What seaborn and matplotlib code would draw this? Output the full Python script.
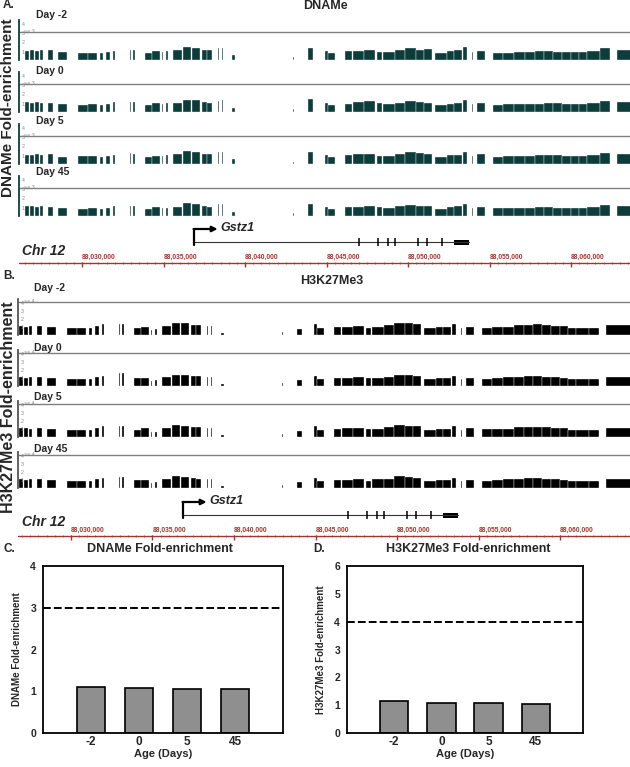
import matplotlib
matplotlib.use("Agg")
import matplotlib.pyplot as plt
import seaborn as sns
import pandas as pd
import numpy as np

W, H = 630, 767

# genomic windows, kb past 88,000,000 on chr12
seg_start = [26.50, 26.81, 27.12, 27.42, 27.91, 28.53, 29.75, 30.35, 31.10, 31.47,
             31.90, 32.94, 33.13, 33.87, 34.30, 34.91, 35.15, 35.58, 36.20, 36.75,
             37.36, 37.65, 38.34, 38.56, 39.20, 42.94, 43.87, 44.91, 45.10, 46.13,
             46.63, 47.30, 48.10, 48.47, 49.20, 49.80, 50.50, 51.00, 51.66, 52.40,
             52.85, 53.37, 53.93, 54.23, 55.21, 55.85, 56.50, 57.15, 57.80, 58.35,
             58.90, 59.45, 60.00, 60.50, 61.00, 61.80, 62.82]
seg_end = [26.75, 27.06, 27.36, 27.61, 28.22, 29.08, 30.35, 30.92, 31.29, 31.72,
           32.02, 33.02, 33.25, 34.30, 34.79, 34.97, 35.27, 36.13, 36.70, 37.24,
           37.65, 37.98, 38.40, 38.62, 39.39, 42.98, 44.17, 45.10, 45.52, 46.56,
           47.30, 47.98, 48.40, 49.20, 49.80, 50.50, 51.00, 51.47, 52.40, 52.85,
           53.30, 53.62, 53.99, 54.72, 55.85, 56.50, 57.15, 57.80, 58.35, 58.90,
           59.45, 60.00, 60.50, 61.00, 61.80, 62.39, 64.40]

days = ["Day -2", "Day 0", "Day 5", "Day 45"]

dname_d_2 = [1.00, 1.05, 1.00, 1.05, 1.05, 0.85, 0.80, 0.80, 0.70, 0.90,
             1.00, 1.10, 1.10, 0.75, 0.95, 0.90, 0.95, 1.05, 1.40, 1.30,
             1.10, 1.05, 1.30, 1.30, 0.50, 0.30, 1.30, 1.00, 0.70, 0.95,
             1.00, 1.10, 0.90, 0.90, 1.05, 1.25, 1.10, 1.15, 0.75, 0.95,
             1.05, 1.35, 0.90, 1.00, 0.80, 0.80, 0.85, 0.85, 0.95, 1.00,
             0.90, 0.90, 0.85, 0.85, 1.00, 1.25, 1.10]
dname_d0 = [1.05, 1.00, 1.05, 1.00, 1.00, 0.85, 0.80, 0.85, 0.70, 0.85,
            1.05, 1.05, 1.10, 0.80, 0.95, 0.85, 1.00, 1.00, 1.30, 1.25,
            1.05, 1.00, 1.20, 1.25, 0.45, 0.30, 1.35, 0.95, 0.70, 0.90,
            1.05, 1.15, 0.95, 0.85, 1.00, 1.20, 1.10, 0.95, 0.75, 0.90,
            1.00, 1.30, 0.85, 0.95, 0.80, 0.85, 0.85, 0.90, 0.90, 0.95,
            0.95, 0.85, 0.90, 0.85, 0.95, 1.15, 1.05]
dname_d5 = [1.00, 1.00, 1.05, 1.00, 1.05, 0.80, 0.85, 0.85, 0.75, 0.90,
            1.00, 1.20, 1.10, 0.75, 0.90, 0.90, 0.95, 1.05, 1.35, 1.30,
            1.10, 1.05, 1.25, 1.25, 0.50, 0.25, 1.30, 1.00, 0.75, 0.95,
            1.05, 1.10, 0.90, 0.90, 1.10, 1.25, 1.15, 1.05, 0.75, 0.95,
            1.00, 1.30, 0.90, 1.05, 0.80, 0.85, 0.90, 0.85, 0.95, 1.00,
            0.95, 0.90, 0.85, 0.90, 1.00, 1.20, 1.10]
dname_d45 = [1.05, 1.05, 1.00, 1.05, 1.00, 0.85, 0.80, 0.85, 0.70, 0.85,
             1.05, 1.10, 1.05, 0.80, 0.95, 0.85, 0.90, 1.00, 1.35, 1.25,
             1.05, 1.00, 1.25, 1.30, 0.45, 0.30, 1.30, 1.00, 0.70, 0.95,
             1.00, 1.10, 0.95, 0.90, 1.05, 1.20, 1.10, 1.10, 0.80, 0.95,
             1.05, 1.30, 0.85, 1.00, 0.85, 0.85, 0.90, 0.90, 0.95, 0.95,
             0.90, 0.90, 0.90, 0.85, 1.00, 1.20, 1.10]

k27_d_2 = [1.00, 1.10, 1.00, 1.05, 1.10, 1.00, 0.80, 0.85, 0.90, 1.10,
           1.30, 1.35, 1.30, 0.90, 1.00, 0.60, 0.70, 1.10, 1.50, 1.40,
           1.25, 1.20, 1.10, 1.10, 0.30, 0.40, 0.70, 1.30, 0.80, 1.00,
           1.00, 1.05, 0.90, 1.00, 1.20, 1.50, 1.40, 1.30, 0.90, 0.95,
           0.95, 1.30, 0.90, 1.00, 0.90, 0.95, 1.00, 1.20, 1.25, 1.30,
           1.20, 1.10, 1.05, 0.85, 0.80, 0.85, 1.20]
k27_d0 = [1.05, 1.05, 1.00, 1.05, 1.05, 1.00, 0.85, 0.85, 0.90, 1.05,
          1.25, 1.60, 1.55, 0.95, 1.00, 0.60, 0.70, 1.05, 1.30, 1.30,
          1.25, 1.20, 1.15, 1.10, 0.30, 0.40, 0.75, 1.25, 0.80, 0.95,
          1.00, 1.10, 0.95, 1.00, 1.15, 1.35, 1.30, 1.25, 0.85, 0.95,
          1.00, 1.25, 0.90, 1.00, 0.90, 1.00, 1.05, 1.15, 1.20, 1.25,
          1.15, 1.05, 1.00, 0.85, 0.80, 0.85, 1.15]
k27_d5 = [1.00, 1.10, 1.05, 1.00, 1.05, 1.00, 0.80, 0.85, 0.85, 1.05,
          1.30, 1.30, 1.35, 0.90, 1.05, 0.60, 0.65, 1.10, 1.45, 1.35,
          1.20, 1.20, 1.10, 1.05, 0.30, 0.40, 0.70, 1.30, 0.85, 1.00,
          1.05, 1.05, 0.95, 1.00, 1.20, 1.45, 1.35, 1.30, 0.90, 1.00,
          0.95, 1.30, 0.90, 1.05, 0.95, 1.00, 1.00, 1.20, 1.20, 1.25,
          1.20, 1.10, 1.05, 0.90, 0.85, 0.85, 1.15]
k27_d45 = [1.05, 1.05, 1.00, 1.05, 1.10, 1.00, 0.85, 0.80, 0.90, 1.05,
           1.25, 1.30, 1.30, 0.95, 1.00, 0.55, 0.70, 1.05, 1.40, 1.35,
           1.25, 1.15, 1.10, 1.10, 0.30, 0.35, 0.75, 1.25, 0.80, 1.00,
           1.00, 1.10, 0.90, 1.05, 1.15, 1.40, 1.35, 1.25, 0.85, 0.95,
           1.00, 1.25, 0.90, 1.00, 0.90, 0.95, 1.05, 1.15, 1.25, 1.25,
           1.15, 1.10, 1.00, 0.85, 0.80, 0.85, 1.15]

dname_tracks = [dname_d_2, dname_d0, dname_d5, dname_d45]
k27_tracks = [k27_d_2, k27_d0, k27_d5, k27_d45]

# Gstz1 gene model (kb past 88,000,000)
gene_start = 36.87
utr_start, utr_end = 52.80, 53.75
exons = [47.0, 48.16, 48.77, 49.2, 50.6, 51.15, 52.1]
coord_ticks = [30, 35, 40, 45, 50, 55, 60]

# bar charts C and D
ages = ["-2", "0", "5", "45"]
dname_fold = [1.09, 1.07, 1.06, 1.05]
k27_fold = [1.14, 1.07, 1.06, 1.05]

sns.set_style("white")
plt.rcParams["font.family"] = ["Liberation Sans", "DejaVu Sans"]

fig = plt.figure(figsize=(W / 100, H / 100), dpi=100)
RED = "#a8322d"
TEAL = "#0c3d3b"


def px_ax(left, top, width, height):
    return fig.add_axes([left / W, 1 - (top + height) / H, width / W, height / H])


def px_text(x, y, s, **kw):
    fig.text(x / W, 1 - y / H, s, **kw)


def draw_track(left, baseline, xlim, heights, color, thr, ymax, ppu, spine_color):
    hpx = ymax * ppu
    ax = px_ax(left, baseline - hpx, W - left, hpx)
    widths = [e - s for s, e in zip(seg_start, seg_end)]
    ax.bar(seg_start, heights, width=widths, align="edge", color=color,
           edgecolor="white", linewidth=0.25)
    ax.axhline(thr, color="#808080", lw=1.0)
    ax.set_xlim(*xlim)
    ax.set_ylim(0, ymax)
    for s in ["top", "right", "bottom"]:
        ax.spines[s].set_visible(False)
    ax.spines["left"].set_color(spine_color)
    ax.spines["left"].set_linewidth(1.3)
    ax.set_xticks([])
    ax.set_yticks([1, 2, 3, 4])
    ax.tick_params(axis="y", direction="in", length=2, width=0.5, color="#888888",
                   labelleft=False)
    tr = ax.get_yaxis_transform()
    for v in [1, 2, 3, 4]:
        ax.text(0.004, v - 0.15, str(v), transform=tr, fontsize=3.8, color="#888888",
                va="center", ha="left")
    ax.text(0.009, thr + 0.1, f">= {thr}", transform=tr, fontsize=3.8, color="#888888",
            va="center", ha="left")
    return ax


def draw_gene(left, top, xlim, arrow_y, line_y, axis_y):
    ax = px_ax(left, top, W - left, 55)
    ax.set_xlim(*xlim)
    ax.set_ylim(top + 55, top)
    ax.axis("off")
    ax.plot([gene_start, utr_end], [line_y, line_y], color="#333333", lw=0.8)
    ax.vlines(exons, line_y - 4, line_y + 4, color="black", lw=1.1)
    ax.fill_between([utr_start, utr_end], line_y - 2.5, line_y + 2.5, color="black", lw=0)
    ax.plot([gene_start, gene_start], [line_y + 3, arrow_y], color="black", lw=1.6)
    ax.annotate("", xy=(gene_start + 1.45, arrow_y), xytext=(gene_start - 0.03, arrow_y),
                arrowprops=dict(arrowstyle="-|>", color="black", lw=1.6,
                                mutation_scale=8, shrinkA=0, shrinkB=0))
    ax.text(gene_start + 1.6, arrow_y - 1, "Gstz1", style="italic", weight="bold",
            fontsize=9, va="center", ha="left")
    ax.plot(list(xlim), [axis_y, axis_y], color=RED, lw=1.0)
    ax.vlines(np.arange(np.ceil(xlim[0] * 2) / 2, xlim[1], 0.5), axis_y - 1, axis_y + 1,
              color=RED, lw=0.5)
    ax.vlines(coord_ticks, axis_y - 1, axis_y + 4, color=RED, lw=1.0)
    for t in coord_ticks:
        ax.text(t, axis_y - 2.5, f"{88000000 + t * 1000:,}", color=RED, fontsize=4.8,
                weight="bold", ha="left", va="bottom")
    return ax


# ---- panel A: DNAMe tracks
xlim_a = (26.13, 63.62)
px_text(3, 5, "A.", fontsize=8.5, weight="bold", va="center")
px_text(325, 6, "DNAMe", fontsize=9, weight="bold", va="center", ha="center")
a_label_y = [15, 71, 121, 172]
for i in range(4):
    draw_track(19, 60 + 52 * i, xlim_a, dname_tracks[i], TEAL, 3, 4.3, 9.3, TEAL)
    px_text(36, a_label_y[i], days[i], fontsize=7.5, weight="bold", va="center")
px_text(8, 108, "DNAMe Fold-enrichment", fontsize=11, weight="bold", rotation=90,
        va="center", ha="center")
draw_gene(19, 220, xlim_a, 229, 242, 263)
px_text(22, 251, "Chr 12", fontsize=10, weight="bold", style="italic", va="center")

# ---- panel B: H3K27Me3 tracks
xlim_b = (26.75, 64.29)
px_text(3, 276, "B.", fontsize=8.5, weight="bold", va="center")
px_text(332, 281, "H3K27Me3", fontsize=9, weight="bold", va="center", ha="center")
b_label_y = [288, 348, 397, 449]
for i in range(4):
    draw_track(18, 335 + 51 * i, xlim_b, k27_tracks[i], "black", 4, 4.4, 8.25, "#555555")
    px_text(34, b_label_y[i], days[i], fontsize=7.5, weight="bold", va="center")
px_text(9, 407, "H3K27Me3 Fold-enrichment", fontsize=11.5, weight="bold", rotation=90,
        va="center", ha="center")
draw_gene(18, 492, xlim_b, 502, 515, 536)
px_text(22, 522, "Chr 12", fontsize=10, weight="bold", style="italic", va="center")


# ---- panels C and D: fold-enrichment bar charts
def fold_panel(left, width, vals, thr, ymax, ylabel):
    ax = px_ax(left, 566, width, 167)
    df = pd.DataFrame({"age": ages, "fold": vals})
    sns.barplot(data=df, x="age", y="fold", order=ages, color="#8f8f8f", saturation=1,
                edgecolor="black", linewidth=1.2, width=0.6, ax=ax)
    ax.axhline(thr, color="black", lw=1.4, ls=(0, (4, 1.6)))
    ax.set_xlim(-1, 4)
    ax.set_ylim(0, ymax)
    ax.set_yticks(range(0, ymax + 1))
    for s in ax.spines.values():
        s.set_color("black")
        s.set_linewidth(1.3)
    ax.tick_params(axis="x", length=0, pad=2)
    ax.tick_params(axis="y", length=3, width=1, direction="out", color="black", pad=2)
    for lab in ax.get_xticklabels():
        lab.set_fontweight("bold")
        lab.set_fontsize(8.5)
    for lab in ax.get_yticklabels():
        lab.set_fontweight("bold")
        lab.set_fontsize(7.5)
    ax.set_xlabel("Age (Days)", fontsize=8, weight="bold", labelpad=1)
    ax.set_ylabel(ylabel, fontsize=7, weight="bold", labelpad=6)
    return ax


fold_panel(43, 240, dname_fold, 3, 4, "DNAMe Fold-enrichment")
px_text(4, 549, "C.", fontsize=8.5, weight="bold", va="center")
px_text(160, 549, "DNAMe Fold-enrichment", fontsize=9, weight="bold", va="center",
        ha="center")

fold_panel(347, 236, k27_fold, 4, 6, "H3K27Me3 Fold-enrichment")
px_text(313, 549, "D.", fontsize=8.5, weight="bold", va="center")
px_text(468, 549, "H3K27Me3 Fold-enrichment", fontsize=9, weight="bold", va="center",
        ha="center")

fig.savefig("out.png", dpi=100)
